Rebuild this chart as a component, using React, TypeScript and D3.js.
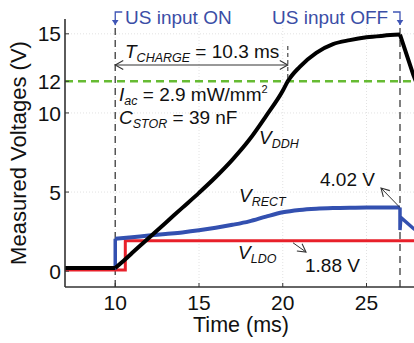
import React from "react";
import * as d3 from "d3";

// ---- data ----
const ddhTime = [7, 8, 9, 10, 10.6, 11, 12, 13, 14, 15, 16, 17, 18, 19, 20, 20.3, 21, 22, 23, 24, 25, 26, 27, 27.8, 28.5];
const ddhVolt = [0.2, 0.2, 0.2, 0.2, 0.75, 1.15, 2.1, 3.05, 4.0, 4.95, 5.95, 7.05, 8.3, 9.8, 11.4, 12.0, 12.9, 13.8, 14.35, 14.6, 14.78, 14.88, 14.95, 12.4, 10.5];

const rectTime = [7, 10, 10, 11, 12, 13, 14, 15, 16, 17, 18, 19, 20, 21, 22, 23, 24, 25, 26, 27, 27, 27.05, 27.8, 28.5];
const rectVolt = [0.2, 0.2, 2.05, 2.15, 2.25, 2.35, 2.45, 2.58, 2.74, 2.93, 3.15, 3.45, 3.72, 3.87, 3.95, 3.99, 4.01, 4.02, 4.02, 4.02, 2.6, 3.4, 2.7, 2.2];

const ldoTime = [7, 10.6, 10.6, 28.5];
const ldoVolt = [0.08, 0.08, 1.92, 1.92];

const xTicks = [10, 15, 20, 25];
const yTicks = [0, 5, 10, 12, 15];
const gridY = [5, 10, 15];
const gridX = [10, 15, 20, 25];

const tOn = 10;
const tOff = 27;
const tCharge = 10.3;
const vTarget = 12;

const FONT = "'Liberation Sans', Arial, Helvetica, sans-serif";
const BLUE_TXT = "#3b4ea6";

export default function App() {
  const W = 414, H = 343;
  const x = d3.scaleLinear().domain([7, 30]).range([65, 65 + 23 * 16.75]);
  const y = d3.scaleLinear().domain([-1, 16]).range([287, 18]);

  const pts = (t: number[], v: number[]) => t.map((tt, i) => [tt, v[i]] as [number, number]);
  const lin = d3.line<[number, number]>().x(d => x(d[0])).y(d => y(d[1]));
  const smooth = d3.line<[number, number]>().x(d => x(d[0])).y(d => y(d[1])).curve(d3.curveMonotoneX);

  const ddh = pts(ddhTime, ddhVolt);
  const iOn = ddhTime.indexOf(tOn);
  const iOff = ddhTime.indexOf(tOff);
  const ddhFlat = lin(ddh.slice(0, iOn + 1));
  const ddhRise = smooth(ddh.slice(iOn, iOff + 1));
  const ddhFall = lin(ddh.slice(iOff));

  const rp = pts(rectTime, rectVolt);
  const rOn = 2; // index of the step-up point at tOn
  const rOff = rectTime.indexOf(tOff);
  const rectStart = lin(rp.slice(0, rOn + 1));
  const rectMid = smooth(rp.slice(rOn, rOff + 1));
  const rectEnd = lin(rp.slice(rOff));
  const ldo = lin(pts(ldoTime, ldoVolt));

  const x0 = x.range()[0];
  const yb = y.range()[0];
  const axisColor = "#333";
  const blue = "#3350b0";

  return (
    <svg width={W} height={H} style={{ position: "absolute", left: 0, top: 0, background: "#fff" }} fontFamily={FONT}>
      <defs>
        <marker id="open" viewBox="-10 -6 12 12" refX="0" refY="0" markerWidth="12" markerHeight="12" markerUnits="userSpaceOnUse" orient="auto-start-reverse">
          <path d="M-8,-4.5 L0,0 L-8,4.5" fill="none" stroke="#333" strokeWidth={1.1} />
        </marker>
        <marker id="tri" viewBox="-6 -6 12 12" refX="0" refY="0" markerWidth="10" markerHeight="10" markerUnits="userSpaceOnUse" orient="auto">
          <path d="M-6,-4 L0,0 L-6,4 Z" fill="#3f55b5" />
        </marker>
      </defs>

      {/* grid */}
      {gridY.map(v => (
        <line key={"gy" + v} x1={x0} x2={W} y1={y(v)} y2={y(v)} stroke="#e2e2e2" strokeWidth={1} strokeDasharray="1,2" />
      ))}
      {gridX.map(t => (
        <line key={"gx" + t} x1={x(t)} x2={x(t)} y1={19} y2={yb} stroke="#e2e2e2" strokeWidth={1} strokeDasharray="1,2" />
      ))}

      {/* 12 V target line */}
      <line x1={x0} x2={W} y1={y(vTarget)} y2={y(vTarget)} stroke="#66bb33" strokeWidth={2.5} strokeDasharray="8,5" />

      {/* US on/off dashed markers */}
      <line x1={x(tOn)} x2={x(tOn)} y1={28} y2={yb} stroke="#555" strokeWidth={1.5} strokeDasharray="7,5" />
      <line x1={x(tOff)} x2={x(tOff)} y1={28} y2={yb} stroke="#555" strokeWidth={1.5} strokeDasharray="7,5" />

      {/* traces */}
      <path d={ldo || ""} fill="none" stroke="#e8202a" strokeWidth={3} />
      <path d={rectStart || ""} fill="none" stroke={blue} strokeWidth={3.5} />
      <path d={rectMid || ""} fill="none" stroke={blue} strokeWidth={4} />
      <path d={rectEnd || ""} fill="none" stroke={blue} strokeWidth={3.5} />
      <path d={ddhFlat || ""} fill="none" stroke="#000" strokeWidth={4} />
      <path d={ddhRise || ""} fill="none" stroke="#000" strokeWidth={4} strokeLinejoin="round" />
      <path d={ddhFall || ""} fill="none" stroke="#000" strokeWidth={4} />

      {/* axes */}
      <line x1={x0} x2={x0} y1={19} y2={yb} stroke={axisColor} strokeWidth={1.6} />
      <line x1={x0} x2={W} y1={yb} y2={yb} stroke={axisColor} strokeWidth={1.6} />
      {yTicks.map(v => (
        <g key={"yt" + v}>
          <line x1={x0} x2={x0 + 4} y1={y(v)} y2={y(v)} stroke={axisColor} strokeWidth={1} />
          <text x={x0 - 4} y={y(v)} dy="0.36em" textAnchor="end" fontSize={21} fill="#111">{v}</text>
        </g>
      ))}
      {xTicks.map(t => (
        <g key={"xt" + t}>
          <line x1={x(t)} x2={x(t)} y1={yb} y2={yb - 4} stroke={axisColor} strokeWidth={1} />
          <text x={x(t)} y={310} textAnchor="middle" fontSize={21} fill="#111">{t}</text>
        </g>
      ))}
      <text x={241} y={332} textAnchor="middle" fontSize={21.5} fill="#111">Time (ms)</text>
      <text transform={`translate(26,${153}) rotate(-90)`} textAnchor="middle" fontSize={22} fill="#111">Measured Voltages (V)</text>

      {/* US input labels with bracket arrows */}
      <path d={`M${x(tOn) + 7},12 H${x(tOn)} V25`} fill="none" stroke="#3f55b5" strokeWidth={1.3} markerEnd="url(#tri)" />
      <text x={125} y={24} fontSize={19} fill={BLUE_TXT}>US input ON</text>
      <path d={`M${x(tOff) - 7},12 H${x(tOff)} V25`} fill="none" stroke="#3f55b5" strokeWidth={1.3} markerEnd="url(#tri)" />
      <text x={272} y={24} fontSize={19} fill={BLUE_TXT}>US input OFF</text>

      {/* T_CHARGE */}
      <text x={125} y={58} fontSize={19} fill="#111">
        <tspan fontStyle="italic">T</tspan>
        <tspan fontStyle="italic" fontSize={12.5} dy={4}>CHARGE</tspan>
        <tspan dy={-4}> = 10.3 ms</tspan>
      </text>
      <line x1={x(tOn)} x2={x(tOn + tCharge)} y1={65} y2={65} stroke="#333" strokeWidth={1} markerStart="url(#open)" markerEnd="url(#open)" />
      <line x1={x(tOn + tCharge)} x2={x(tOn + tCharge)} y1={46} y2={y(vTarget)} stroke="#555" strokeWidth={1.3} strokeDasharray="4,3" />

      {/* I_ac / C_STOR */}
      <text x={119} y={101} fontSize={19} fill="#111">
        <tspan fontStyle="italic">I</tspan>
        <tspan fontStyle="italic" fontSize={12.5} dy={4}>ac</tspan>
        <tspan dy={-4}> = 2.9 mW/mm</tspan>
        <tspan fontSize={11} dy={-8}>2</tspan>
      </text>
      <text x={119} y={124} fontSize={19} fill="#111">
        <tspan fontStyle="italic">C</tspan>
        <tspan fontStyle="italic" fontSize={12.5} dy={4}>STOR</tspan>
        <tspan dy={-4}> = 39 nF</tspan>
      </text>

      {/* curve labels */}
      <text x={259} y={144} fontSize={19} fill="#111">
        <tspan fontStyle="italic">V</tspan>
        <tspan fontStyle="italic" fontSize={12.5} dy={4}>DDH</tspan>
      </text>
      <text x={239} y={202} fontSize={19} fill="#111">
        <tspan fontStyle="italic">V</tspan>
        <tspan fontStyle="italic" fontSize={12.5} dy={4}>RECT</tspan>
      </text>
      <text x={238} y={259} fontSize={19} fill="#111">
        <tspan fontStyle="italic">V</tspan>
        <tspan fontStyle="italic" fontSize={12.5} dy={4}>LDO</tspan>
      </text>

      {/* value callouts */}
      <text x={320} y={186} fontSize={19} fill="#111">4.02 V</text>
      <line x1={x(tOff)} y1={y(4.02)} x2={381} y2={188} stroke="#333" strokeWidth={1} markerEnd="url(#open)" />
      <text x={305} y={272} fontSize={19} fill="#111">1.88 V</text>
      <line x1={293} y1={y(1.92) + 2} x2={306} y2={252} stroke="#333" strokeWidth={1} markerEnd="url(#open)" />
    </svg>
  );
}
